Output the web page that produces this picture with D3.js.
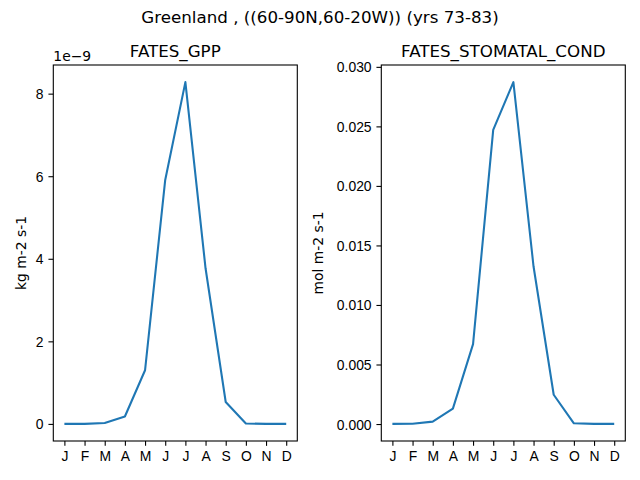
<!DOCTYPE html>
<html>
<head>
<meta charset="utf-8">
<script src="https://cdn.jsdelivr.net/npm/d3@7.9.0/dist/d3.min.js"></script>
<style>
  body { margin: 0; background: #fff; }
  svg { font-family: "DejaVu Sans", sans-serif; }
  .tick text { font-size: 13.9px; fill: #000; }
  .tick line, .domain { stroke: #000; stroke-width: 1.1; }
</style>
</head>
<body>
<div id="chart"></div>
<script>
// Monthly climatology values
const months = ['J', 'F', 'M', 'A', 'M', 'J', 'J', 'A', 'S', 'O', 'N', 'D'];
const gpp = [0.0, 0.0, 0.024e-9, 0.18e-9, 1.30e-9, 5.91e-9, 8.28e-9, 3.77e-9, 0.53e-9, 0.01e-9, 0.0, 0.0];
const stomatal = [0.00001, 0.00002, 0.0002, 0.00129, 0.00671, 0.0247, 0.02872, 0.01323, 0.00246, 0.00006, 0.00001, 0.00001];
const gppTicks = [0, 2, 4, 6, 8];
const condTicks = [0, 0.005, 0.01, 0.015, 0.02, 0.025, 0.03];

const width = 640, height = 480;
const svg = d3.select('#chart').append('svg')
  .attr('width', width).attr('height', height);

svg.append('text')
  .attr('x', width / 2).attr('y', 22.5)
  .attr('text-anchor', 'middle')
  .style('font-size', '16.7px')
  .text('Greenland , ((60-90N,60-20W)) (yrs 73-83)');

// pad extent by 5% like matplotlib
function padded(values) {
  const [lo, hi] = d3.extent(values);
  const m = (hi - lo) * 0.05;
  return [lo - m, hi + m];
}

function renderPanel(opts) {
  const { left, top, w, h, values, scale, ticks, fmt, title, ylabel, ylabelX, offsetText } = opts;
  const g = svg.append('g');

  const x = d3.scaleLinear().domain(padded(d3.range(months.length))).range([left, left + w]);
  const y = d3.scaleLinear().domain(padded(values.map(v => v / scale))).range([top + h, top]);

  g.append('g')
    .attr('transform', `translate(0,${top + h})`)
    .call(d3.axisBottom(x).tickValues(d3.range(months.length)).tickFormat(i => months[i])
      .tickSize(4.86).tickPadding(4.86).tickSizeOuter(0))
    .call(a => a.select('.domain').remove());

  g.append('g')
    .attr('transform', `translate(${left},0)`)
    .call(d3.axisLeft(y).tickValues(ticks).tickFormat(fmt)
      .tickSize(4.86).tickPadding(4.86).tickSizeOuter(0))
    .call(a => a.select('.domain').remove())
    .call(a => a.selectAll('.tick text').attr('dy', '0.36em'));

  g.append('path')
    .datum(values)
    .attr('fill', 'none')
    .attr('stroke', '#1f77b4')
    .attr('stroke-width', 2.08)
    .attr('stroke-linejoin', 'round')
    .attr('stroke-linecap', 'butt')
    .attr('d', d3.line().x((d, i) => x(i)).y(d => y(d / scale)));

  // frame
  g.append('rect')
    .attr('x', left).attr('y', top).attr('width', w).attr('height', h)
    .attr('fill', 'none').attr('stroke', '#000').attr('stroke-width', 1.1);

  g.append('text')
    .attr('x', left + w / 2).attr('y', top - 8.3)
    .attr('text-anchor', 'middle')
    .style('font-size', '16.7px')
    .text(title);

  g.append('text')
    .attr('transform', `translate(${ylabelX},${top + h / 2}) rotate(-90)`)
    .attr('text-anchor', 'middle')
    .attr('dy', '0.36em')
    .style('font-size', '13.9px')
    .text(ylabel);

  if (offsetText) {
    g.append('text')
      .attr('x', left).attr('y', top - 4.5)
      .style('font-size', '13.9px')
      .text(offsetText);
  }
}

renderPanel({
  left: 53.3, top: 65, w: 244, h: 376,
  values: gpp, scale: 1e-9, ticks: gppTicks, fmt: d3.format('d'),
  title: 'FATES_GPP', ylabel: 'kg m-2 s-1', ylabelX: 21, offsetText: '1e\u22129'
});

renderPanel({
  left: 381.3, top: 65, w: 244, h: 376,
  values: stomatal, scale: 1, ticks: condTicks, fmt: d3.format('.3f'),
  title: 'FATES_STOMATAL_COND', ylabel: 'mol m-2 s-1', ylabelX: 318
});
</script>
</body>
</html>
